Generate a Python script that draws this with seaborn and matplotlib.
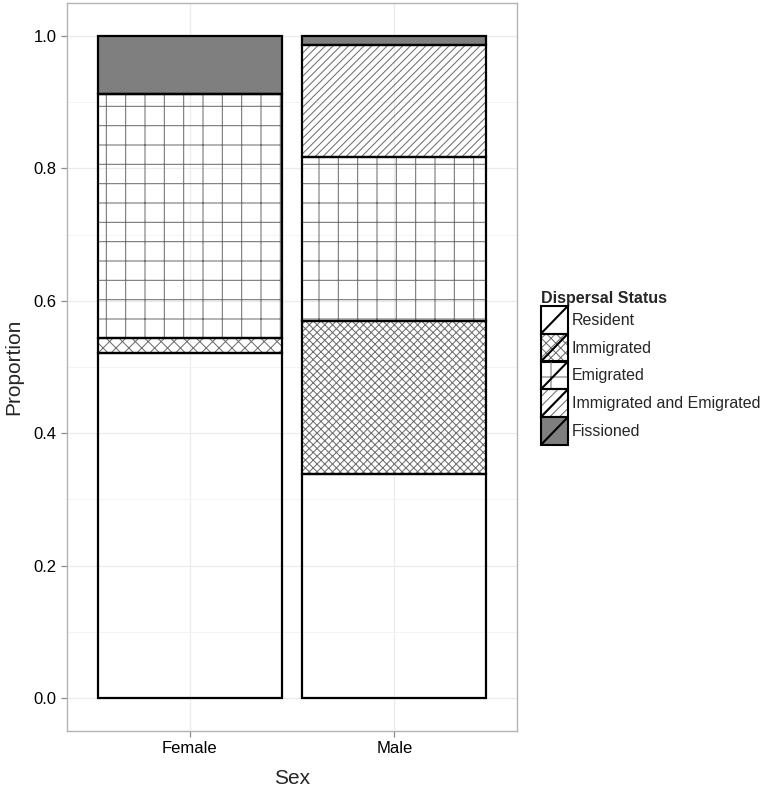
import matplotlib
matplotlib.use("Agg")
import matplotlib.pyplot as plt
import numpy as np
import seaborn as sns
from matplotlib.legend_handler import HandlerBase
from matplotlib.patches import Patch, Rectangle
from matplotlib.lines import Line2D
from matplotlib.ticker import MultipleLocator

# Data (proportions, stacked bottom -> top)
sexes = ["Female", "Male"]
statuses = ["Resident", "Immigrated", "Emigrated",
            "Immigrated and Emigrated", "Fissioned"]
resident = [0.521, 0.338]
immigrated = [0.023, 0.232]
emigrated = [0.369, 0.248]
immi_emi = [0.000, 0.168]
fissioned = [0.087, 0.014]

layers = [resident, immigrated, emigrated, immi_emi, fissioned]
fills = ["none", "none", "none", "none", "#7f7f7f"]
# hatch per layer, per bar (Female, Male)
hatches = [(None, None), ("xxx", "xxxxx"), ("+", "+"), ("/////", "/////"),
           (None, None)]
legend_hatch = [None, "xxxx", "+", "////", None]

# hatch cell size follows the dpi, so pick a dpi that gives the reference
# pattern scale and scale point sizes back to the 100-dpi look
DPI = 116
k = 100 / DPI

sns.set_theme(style="white")
plt.rcParams["font.family"] = ["Liberation Sans", "DejaVu Sans"]
plt.rcParams["hatch.linewidth"] = 0.75 * k

fig = plt.figure(figsize=(764 / DPI, 788 / DPI), dpi=DPI)
ax = fig.add_axes([67 / 764, 1 - 731 / 788, 450 / 764, 728 / 788])

bottoms = np.zeros(len(sexes))
for vals, fc, hs in zip(layers, fills, hatches):
    # fill with grey hatch lines
    sns.barplot(x=sexes, y=vals, bottom=bottoms,
                color="white" if fc == "none" else fc, saturation=1,
                edgecolor="#707070", linewidth=0, width=0.9,
                errorbar=None, ax=ax, zorder=2)
    for bar, h in zip(ax.containers[-1], hs):
        bar.set_facecolor(fc)
        bar.set_hatch(h)
    # black outline of every segment
    sns.barplot(x=sexes, y=vals, bottom=bottoms, color="black", fill=False,
                linewidth=1.6 * k, width=0.9, errorbar=None, ax=ax, zorder=3)
    bottoms = bottoms + np.array(vals)

ax.set_xlim(-0.6, 1.6)
ax.set_ylim(-0.05, 1.05)
ax.yaxis.set_major_locator(MultipleLocator(0.2))
ax.yaxis.set_minor_locator(MultipleLocator(0.1))
ax.set_yticks([0, 0.2, 0.4, 0.6, 0.8, 1.0])
ax.set_yticklabels(["0.0", "0.2", "0.4", "0.6", "0.8", "1.0"])

ax.grid(True, which="major", color="#ebebeb", linewidth=0.9 * k, zorder=0)
ax.grid(True, which="minor", axis="y", color="#f3f3f3", linewidth=0.6 * k,
        zorder=0)
ax.set_axisbelow(True)
for s in ax.spines.values():
    s.set_color("#b3b3b3")
    s.set_linewidth(1.0 * k)
ax.tick_params(axis="both", which="major", length=4 * k, width=0.9 * k,
               pad=3.5 * k, color="#8c8c8c", labelsize=12 * k,
               labelcolor="black", bottom=True, left=True)
ax.tick_params(axis="y", which="minor", length=0)

ax.set_xlabel("Sex", fontsize=15 * k, labelpad=9 * k)
ax.set_ylabel("Proportion", fontsize=15 * k, labelpad=7 * k)


class KeyHandler(HandlerBase):
    def create_artists(self, legend, orig, xdescent, ydescent, width, height,
                       fontsize, trans):
        x0, y0 = -xdescent, -ydescent
        r = Rectangle((x0, y0), width, height, facecolor=orig.get_facecolor(),
                      hatch=orig.get_hatch(), edgecolor="#707070", lw=0,
                      transform=trans)
        b = Rectangle((x0, y0), width, height, fill=False, edgecolor="black",
                      lw=1.5 * k, transform=trans)
        d = Line2D([x0, x0 + width], [y0, y0 + height], color="black",
                   lw=1.5 * k, transform=trans)
        return [r, b, d]


handles = [Patch(facecolor=fc, hatch=h, label=lab)
           for fc, h, lab in zip(fills, legend_hatch, statuses)]
leg = fig.legend(handles=handles, labels=statuses, loc="upper left",
                 bbox_to_anchor=(539 / 764, 1 - 289 / 788), frameon=False,
                 title="Dispersal Status", alignment="left",
                 title_fontproperties={"weight": "bold", "size": 11.5 * k},
                 fontsize=11.5 * k, handlelength=1.69, handleheight=2.3,
                 labelspacing=0.0, handletextpad=0.25, borderpad=0.12,
                 borderaxespad=0,
                 handler_map={Patch: KeyHandler()})

fig.savefig("out.png", dpi=DPI)
